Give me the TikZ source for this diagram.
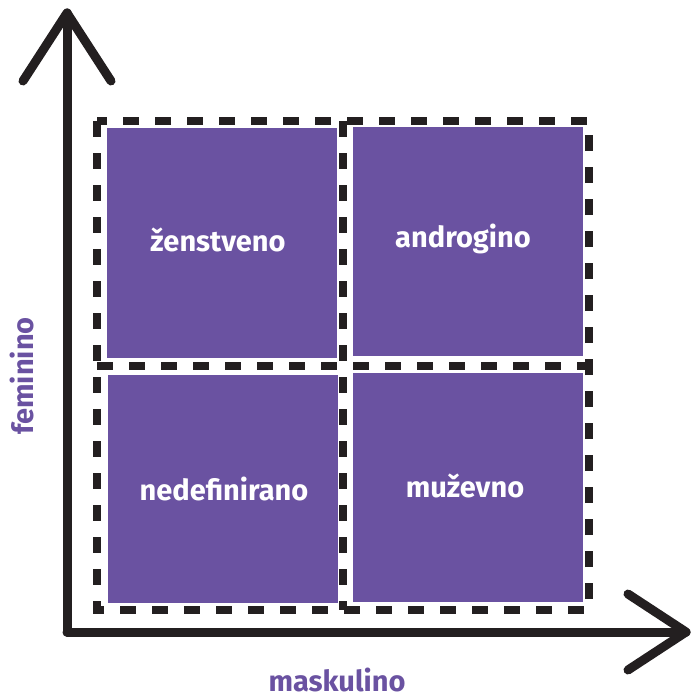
\documentclass[tikz,border=0pt]{standalone}
\usepackage{fontspec}
\setmainfont{Fira Sans}
\definecolor{quad}{RGB}{106,82,161}
\definecolor{axis}{RGB}{35,31,32}
\begin{document}
\begin{tikzpicture}[x=1pt,y=-1pt,
  axisline/.style={draw=axis,line width=9pt,line cap=round,line join=round},
  dashline/.style={draw=axis,line width=8pt,dash pattern=on 16pt off 16pt},
  quadlabel/.style={text=white,font=\fontsize{29}{33}\selectfont\bfseries},
  axislabel/.style={text=quad,font=\fontsize{29}{33}\selectfont\bfseries}]
\useasboundingbox (0,0) rectangle (691,698);
% quadrants
\path[fill=quad] (107,128) rectangle (337,358) node[midway] (q1) {};
\path[fill=quad] (353,127) rectangle (583,356) node[midway] (q2) {};
\path[fill=quad] (108,375) rectangle (338,603) node[midway] (q3) {};
\path[fill=quad] (353,373) rectangle (583,602) node[midway] (q4) {};
\node[quadlabel] (l1) at (218,240) {ženstveno};
\node[quadlabel] (l2) at (463,239) {androgino};
\node[quadlabel] (l3) at (224,489) {nedefinirano};
\node[quadlabel] (l4) at (465,486) {muževno};
% dashed frame
\coordinate (d1) at (97,121);
\coordinate (d2) at (589,610);
\draw[dashline] (d1) rectangle (d2);
\coordinate (vt) at (343,121);
\coordinate (vb) at (343,610);
\coordinate (hl) at (97,366);
\coordinate (hr) at (589,366);
\draw[dashline] (vt) -- (vb);
\draw[dashline] (hl) -- (hr);
% axes
\coordinate (o) at (67,632);
\coordinate (ytip) at (67,13);
\coordinate (xtip) at (686,632);
\draw[axisline] (o) -- (ytip);
\draw[axisline] (o) -- (xtip);
\draw[axisline] (23,81) -- (ytip) -- (111,81);
\draw[axisline] (628,594) -- (xtip) -- (628,670);
% axis labels
\node[axislabel] (mx) at (337,680) {maskulino};
\node[axislabel,rotate=90] (fx) at (22,376) {feminino};
\end{tikzpicture}
\end{document}
